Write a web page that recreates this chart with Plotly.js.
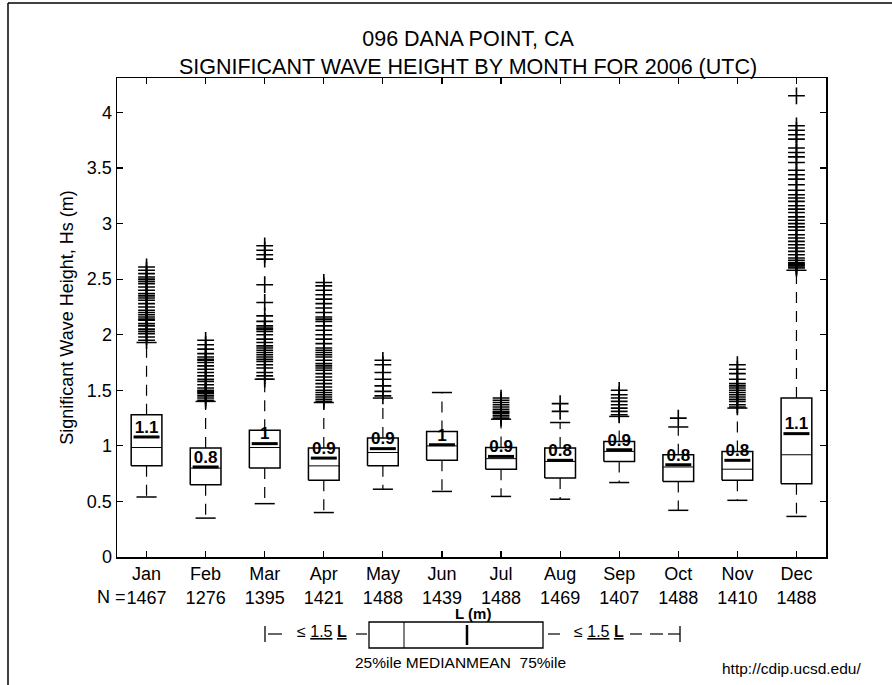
<!DOCTYPE html>
<html>
<head>
<meta charset="utf-8">
<script src="https://cdn.plot.ly/plotly-3.0.1.min.js"></script>
<style>html,body{margin:0;padding:0;background:#fff;}#chart{width:892px;height:685px;}</style>
</head>
<body>
<div id="chart"></div>
<script>
// ---- data ----
const months = ['Jan','Feb','Mar','Apr','May','Jun','Jul','Aug','Sep','Oct','Nov','Dec'];
const counts = [1467,1276,1395,1421,1488,1439,1488,1469,1407,1488,1410,1488];
const q1     = [0.82,0.65,0.80,0.69,0.82,0.87,0.79,0.71,0.86,0.68,0.69,0.66];
const medians= [0.985,0.80,0.985,0.82,0.94,1.00,0.885,0.86,0.95,0.81,0.79,0.92];
const q3     = [1.28,0.98,1.14,0.98,1.07,1.13,0.985,0.98,1.04,0.92,0.95,1.43];
const means  = [1.08,0.81,1.02,0.89,0.975,1.01,0.905,0.87,0.965,0.83,0.87,1.11];
const lowWhisker = [0.54,0.35,0.48,0.40,0.61,0.59,0.545,0.52,0.67,0.42,0.51,0.365];
const upWhisker  = [1.93,1.40,1.60,1.39,1.43,1.48,1.24,1.21,1.265,1.17,1.34,2.58];
const meanLabels = ['1.1','0.8','1','0.9','0.9','1','0.9','0.8','0.9','0.8','0.8','1.1'];
const outJan = [1.95,1.98,2.01,2.03,2.05,2.08,2.1,2.13,2.14,2.16,2.18,2.2,2.22,2.25,2.28,2.31,2.33,2.35,2.37,2.4,2.43,2.46,2.48,2.5,2.52,2.55,2.58,2.61];
const outFeb = [1.41,1.43,1.45,1.47,1.48,1.49,1.5,1.52,1.55,1.58,1.6,1.63,1.66,1.69,1.72,1.75,1.77,1.78,1.8,1.83,1.87,1.91,1.95];
const outMar = [1.6,1.63,1.66,1.7,1.73,1.76,1.78,1.8,1.82,1.84,1.86,1.88,1.9,1.93,1.96,2.0,2.03,2.05,2.06,2.08,2.12,2.17,2.29,2.45,2.68,2.72,2.76,2.8];
const outApr = [1.4,1.42,1.44,1.46,1.48,1.5,1.53,1.56,1.59,1.62,1.65,1.68,1.7,1.72,1.74,1.77,1.8,1.82,1.84,1.86,1.88,1.92,1.96,2.0,2.04,2.08,2.12,2.14,2.16,2.2,2.24,2.28,2.32,2.36,2.4,2.44,2.47];
const outMay = [1.45,1.49,1.54,1.6,1.66,1.73,1.77];
const outJun = [];
const outJul = [1.25,1.27,1.29,1.3,1.31,1.33,1.35,1.37,1.39,1.41,1.43];
const outAug = [1.31,1.38];
const outSep = [1.28,1.31,1.34,1.37,1.4,1.43,1.46,1.5];
const outOct = [1.25];
const outNov = [1.35,1.37,1.4,1.42,1.44,1.46,1.48,1.5,1.52,1.54,1.56,1.6,1.65,1.69,1.73];
const outDec = [2.6,2.61,2.62,2.63,2.64,2.65,2.67,2.69,2.72,2.75,2.78,2.81,2.84,2.87,2.9,2.94,2.97,3.0,3.03,3.06,3.1,3.13,3.16,3.2,3.23,3.26,3.3,3.35,3.4,3.44,3.48,3.55,3.6,3.64,3.68,3.76,3.8,3.84,3.88,4.15];
const outliers = [outJan,outFeb,outMar,outApr,outMay,outJun,outJul,outAug,outSep,outOct,outNov,outDec];
const yTickVals = [0,0.5,1,1.5,2,2.5,3,3.5,4];

// ---- build traces ----
const HW = 0.26, MW = 0.22, CW = 0.17;
const bx=[],by=[],mx=[],my=[],ax=[],ay=[],wx=[],wy=[],cx=[],cy=[],ox=[],oy=[];
months.forEach((m,i)=>{
  const x=i+1;
  bx.push(x-HW,x+HW,x+HW,x-HW,x-HW,null); by.push(q1[i],q1[i],q3[i],q3[i],q1[i],null);
  mx.push(x-HW,x+HW,null); my.push(medians[i],medians[i],null);
  ax.push(x-MW,x+MW,null); ay.push(means[i],means[i],null);
  wx.push(x,x,null,x,x,null); wy.push(q3[i],upWhisker[i],null,q1[i],lowWhisker[i],null);
  cx.push(x-CW,x+CW,null,x-CW,x+CW,null); cy.push(upWhisker[i],upWhisker[i],null,lowWhisker[i],lowWhisker[i],null);
  outliers[i].forEach(v=>{ox.push(x);oy.push(v);});
});
const K='#000';
const traces = [
  {type:'scatter',mode:'lines',x:wx,y:wy,line:{color:K,width:1.2,dash:'11px,8px'},hoverinfo:'skip'},
  {type:'scatter',mode:'lines',x:bx,y:by,line:{color:K,width:1.5},hoverinfo:'skip'},
  {type:'scatter',mode:'lines',x:mx,y:my,line:{color:K,width:1},hoverinfo:'skip'},
  {type:'scatter',mode:'lines',x:ax,y:ay,line:{color:K,width:3},hoverinfo:'skip'},
  {type:'scatter',mode:'lines',x:cx,y:cy,line:{color:K,width:1.5},hoverinfo:'skip'},
  {type:'scatter',mode:'markers',x:ox,y:oy,marker:{symbol:'cross-thin',size:12,color:K,line:{color:K,width:1.6}},hoverinfo:'skip'},
  {type:'scatter',mode:'text',x:months.map((m,i)=>i+1),y:means,text:meanLabels,textposition:'top center',
   textfont:{family:'Liberation Sans, Arial, sans-serif',size:17,color:K,weight:'bold'},hoverinfo:'skip'}
];

// ---- layout helpers (pixel -> paper) ----
const L=117,R=826,T=78,B=557;
const PX=p=>(p-L)/(R-L), PY=p=>(B-p)/(B-T);
const FONT='Liberation Sans, Arial, sans-serif';
const line=(x0,y0,x1,y1,w)=>({type:'line',xref:'paper',yref:'paper',x0:PX(x0),y0:PY(y0),x1:PX(x1),y1:PY(y1),line:{color:K,width:w||1.2}});
const shapes = [
  // figure frame (top & left, as in scan)
  line(8,3,892,3,1.5), line(8,3,8,685,1.5),
  // legend schematic
  {type:'rect',xref:'paper',yref:'paper',x0:PX(369),x1:PX(543),y0:PY(648),y1:PY(622),line:{color:K,width:1.3}},
  line(404,622,404,648,1), line(467,625,467,645,2.5),
  line(265,626,265,642,1.3), line(268,634,282,634,1.2), line(356,634,367,634,1.2),
  line(548,634,560,634,1.2), line(630,634,642,634,1.2), line(650,634,663,634,1.2),
  line(668,634,680,634,1.2), line(680,626,680,642,1.3)
];
const ann = (txt,px,py,size,anchor)=>({xref:'paper',yref:'paper',x:PX(px),y:PY(py),text:txt,showarrow:false,
  xanchor:anchor||'center',yanchor:'middle',font:{family:FONT,size:size,color:K}});
const annotations = [
  {xref:'x',yref:'paper',x:1,y:PY(597),xshift:-19,xanchor:'right',yanchor:'middle',text:'N =',showarrow:false,font:{family:FONT,size:18,color:K}},
  ann('≤ <u>1.5</u> <u><b>L</b></u>',322,631,16),
  ann('≤ <u>1.5</u> <u><b>L</b></u>',599,631,16),
  ann('<b>L (m)</b>',473,613,15),
  ann('25%ile MEDIANMEAN  75%ile',460,662,15.5),
  ann('http://cdip.ucsd.edu/',791,668,15.5)
];

const layout = {
  width:892,height:685,autosize:false,
  margin:{l:L,r:892-R,t:T,b:685-B,pad:0},
  paper_bgcolor:'#fff',plot_bgcolor:'#fff',showlegend:false,hovermode:false,
  font:{family:FONT,color:K},
  title:{text:'096 DANA POINT, CA<br>SIGNIFICANT WAVE HEIGHT BY MONTH FOR 2006 (UTC)',
    font:{family:FONT,size:21.5,color:K},x:PX(468),xref:'paper',xanchor:'center',yref:'container',y:1-46/685,yanchor:'top'},
  xaxis:{range:[0.5,12.5],tickmode:'array',tickvals:months.map((m,i)=>i+1),
    ticktext:months.map((m,i)=>m+'<br>'+counts[i]),ticks:'inside',ticklen:6,tickwidth:1.2,tickcolor:K,
    showline:true,linecolor:K,linewidth:1.5,mirror:'allticks',showgrid:false,zeroline:false,
    tickfont:{family:FONT,size:18,color:K}},
  yaxis:{range:[0,4.31],tickmode:'array',tickvals:yTickVals,ticktext:yTickVals.map(String),ticks:'inside',ticklen:6,tickwidth:1.2,tickcolor:K,
    showline:true,linecolor:K,linewidth:1.5,mirror:'allticks',showgrid:false,zeroline:false,
    tickfont:{family:FONT,size:18,color:K},
    title:{text:'Significant Wave Height, Hs (m)',font:{family:FONT,size:18,color:K},standoff:8}},
  shapes:shapes,annotations:annotations
};
Plotly.newPlot('chart',traces,layout,{staticPlot:true,displayModeBar:false});
</script>
</body>
</html>
